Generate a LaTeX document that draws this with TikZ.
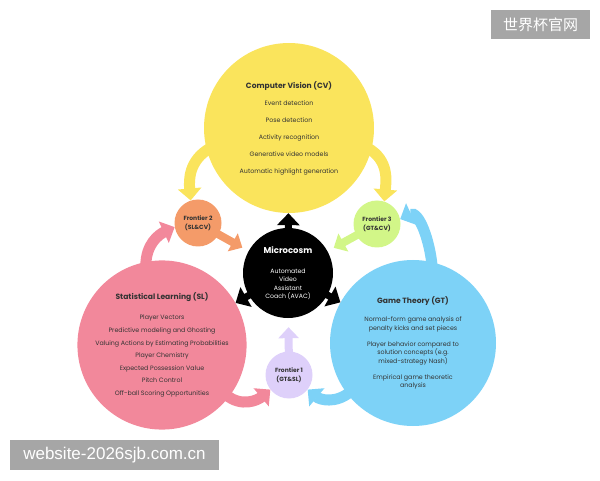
\documentclass[tikz,border=0pt]{standalone}
\usepackage{fontspec}
\setmainfont{Poppins}
\newfontfamily\cjkfont{Noto Sans CJK SC}
\newfontfamily\markfont{Liberation Sans}
\usetikzlibrary{arrows.meta}

\begin{document}
\begin{tikzpicture}[x=1pt, y=1pt]
% AVAC overview: three research areas, their frontiers and the microcosm
\providecommand{\avacCvColor}{rgb,255:red,250;green,228;blue,92}
\providecommand{\avacSlColor}{rgb,255:red,242;green,136;blue,155}
\providecommand{\avacGtColor}{rgb,255:red,125;green,210;blue,247}
\providecommand{\avacOneColor}{rgb,255:red,222;green,208;blue,250}
\providecommand{\avacTwoColor}{rgb,255:red,244;green,155;blue,105}
\providecommand{\avacThreeColor}{rgb,255:red,210;green,246;blue,136}
\providecommand{\avacMarkColor}{rgb,255:red,166;green,166;blue,166}
\providecommand{\avacTitle}[1]{{\fontsize{7.6}{8.5}\selectfont\bfseries #1}}
\tikzset{
  area/.style={circle, inner sep=0pt, align=center, text=black!80,
    font=\fontsize{6.3}{8.5}\selectfont},
  frontier/.style={area, minimum size=47pt, font=\fontsize{6}{8.5}\selectfont\bfseries},
  band/.style={line width=11pt, shorten <=-4pt, -{Triangle[width=23pt,length=12pt]}},
  stub/.style={line width=8pt, shorten <=-4pt, -{Triangle[width=20pt,length=11pt]}},
  push/.style={line width=7pt, shorten <=-6pt, -{Triangle[width=22pt,length=12pt]}},
  markbox/.style={fill=\avacMarkColor, text=white, inner sep=0pt}
}
\useasboundingbox (0,0) rectangle (600,480);

% Main areas
\node[area, minimum size=170pt, fill=\avacCvColor] (cv) at (289,352)
  {\avacTitle{Computer Vision (CV)}\\[8.5pt]
   Event detection\\[8.5pt]
   Pose detection\\[8.5pt]
   Activity recognition\\[8.5pt]
   Generative video models\\[8.5pt]
   Automatic highlight generation};
\node[area, minimum size=168pt, fill=\avacSlColor] (sl) at (162,135)
  {\avacTitle{Statistical Learning (SL)}\\[11.5pt]
   Player Vectors\\[4.1pt]
   Predictive modeling and Ghosting\\[4.1pt]
   Valuing Actions by Estimating Probabilities\\[4.1pt]
   Player Chemistry\\[4.1pt]
   Expected Possession Value\\[4.1pt]
   Pitch Control\\[4.1pt]
   Off-ball Scoring Opportunities};
\node[area, minimum size=166pt, fill=\avacGtColor] (gt) at (413,137)
  {\avacTitle{Game Theory (GT)}\\[9.5pt]
   Normal-form game analysis of\\
   penalty kicks and set pieces\\[7.5pt]
   Player behavior compared to\\
   solution concepts (e.g.\\
   mixed-strategy Nash)\\[7.5pt]
   Empirical game theoretic\\
   analysis};

% Microcosm
\node[area, minimum size=90pt, fill=black, text=white, font=\fontsize{6.2}{8.5}\selectfont] (mc) at (288,207)
  {{\fontsize{8.5}{8.5}\selectfont\bfseries Microcosm}\\[11.5pt]
   Automated\\ Video\\ Assistant\\ Coach (AVAC)};

% Frontiers
\node[frontier, fill=\avacOneColor] (f1) at (289,105) {Frontier 1\\(GT\&SL)};
\node[frontier, fill=\avacTwoColor] (f2) at (198,257) {Frontier 2\\(SL\&CV)};
\node[frontier, fill=\avacThreeColor] (f3) at (377,256) {Frontier 3\\(GT\&CV)};

% Areas feeding the frontiers
\draw[band, draw=\avacCvColor] (cv.195) to[out=210, in=95] (f2.108);
\draw[band, draw=\avacCvColor] (cv.-15) to[out=-30, in=85] (f3.72);
\draw[band, draw=\avacSlColor] (sl.101) to[out=90, in=205] (f2.190);
\draw[band, draw=\avacGtColor] (gt.77) to[out=95, in=25] (f3.12);
\draw[band, draw=\avacSlColor] (sl.-38) to[out=-40, in=220] (f1.218);
\draw[band, draw=\avacGtColor] (gt.218) to[out=220, in=-40] (f1.-38);

% Frontiers into the microcosm
\draw[stub, draw=\avacTwoColor, shorten >=7pt] (f2) -- (mc);
\draw[stub, draw=\avacThreeColor, shorten >=7pt] (f3) -- (mc);
\draw[stub, draw=\avacOneColor, shorten >=9pt] (f1) -- (mc);

% Microcosm back to the areas
\draw[push, draw=black] (mc) -- (cv);
\draw[push, draw=black] (mc) -- (sl);
\draw[push, draw=black] (mc) -- (gt);

% Marks
\node[markbox, minimum width=99pt, minimum height=29pt, font=\cjkfont\fontsize{15}{15}\selectfont] (cnmark) at (540.5,455.5) {世界杯官网};
\node[markbox, minimum width=209pt, minimum height=30pt, font=\markfont\fontsize{17}{17}\selectfont] (webmark) at (114.5,25) {website-2026sjb.com.cn};
\end{tikzpicture}
\end{document}
